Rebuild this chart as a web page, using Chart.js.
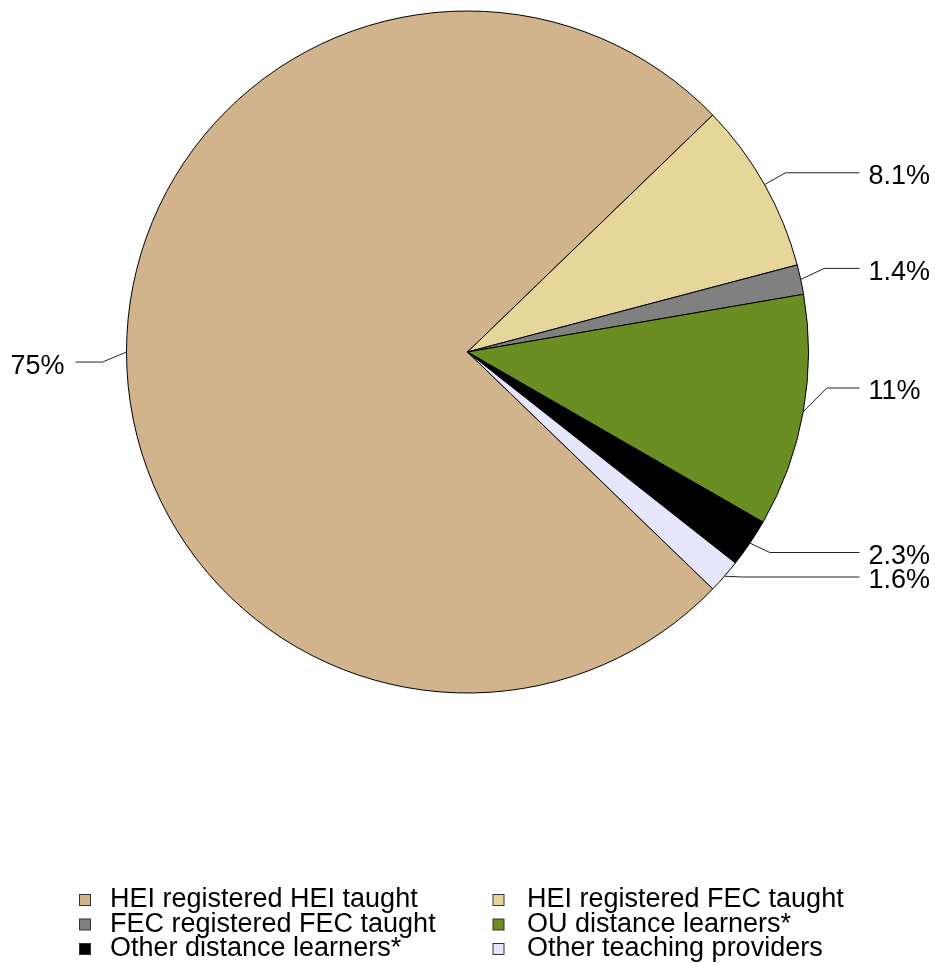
<!DOCTYPE html>
<html>
<head>
<meta charset="utf-8">
<script src="https://cdn.jsdelivr.net/npm/chart.js@4/dist/chart.umd.min.js"></script>
<style>
  html, body { margin: 0; padding: 0; background: #fff; }
  #wrap { width: 935px; height: 963px; position: relative; }
</style>
</head>
<body>
<div id="wrap"><canvas id="myChart"></canvas></div>
<script>
// data
const categories = [
    'HEI registered HEI taught',
    'HEI registered FEC taught',
    'FEC registered FEC taught',
    'OU distance learners*',
    'Other distance learners*',
    'Other teaching providers'
];
const shares = [75.4, 8.1, 1.4, 11.0, 2.3, 1.6];
const shareLabels = ['75%', '8.1%', '1.4%', '11%', '2.3%', '1.6%'];
const colours = ['#D2B48C', '#E6D69A', '#808080', '#6B8E23', '#000000', '#E6E6FA'];

const FONT = '27px "Liberation Sans", Arial, sans-serif';

// percentage labels with leader lines
const leaderLabels = {
    id: 'leaderLabels',
    afterDatasetsDraw(chart, args, opts) {
        const ctx = chart.ctx;
        const arcs = chart.getDatasetMeta(0).data;
        ctx.save();
        ctx.font = FONT;
        ctx.fillStyle = '#000';
        ctx.strokeStyle = '#222';
        ctx.lineWidth = 1;
        ctx.textBaseline = 'middle';
        arcs.forEach((arc, i) => {
            const { x, y, startAngle, endAngle, outerRadius } = arc.getProps(['x', 'y', 'startAngle', 'endAngle', 'outerRadius'], true);
            const mid = (startAngle + endAngle) / 2;
            const cos = Math.cos(mid), sin = Math.sin(mid);
            const right = cos >= 0;
            const ex = x + outerRadius * cos, ey = y + outerRadius * sin;
            const bx = x + (outerRadius + 24) * cos;
            const by = y + (outerRadius + 24) * sin + (opts.nudge[i] || 0);
            const endX = x + (right ? 1 : -1) * (outerRadius + 51);
            ctx.beginPath();
            ctx.moveTo(ex, ey);
            ctx.lineTo(bx, by);
            ctx.lineTo(endX, by);
            ctx.stroke();
            ctx.textAlign = right ? 'left' : 'right';
            ctx.fillText(shareLabels[i], endX + (right ? 9 : -11), by + 4);
        });
        ctx.restore();
    }
};

// two-column legend under the pie
const gridLegend = {
    id: 'gridLegend',
    afterDraw(chart) {
        const ctx = chart.ctx;
        const markX = [85, 498.5];
        const textX = [110, 527];
        const rowY = [900, 924.5, 949];
        ctx.save();
        ctx.font = FONT;
        ctx.textBaseline = 'middle';
        ctx.textAlign = 'left';
        categories.forEach((name, i) => {
            const col = i % 2, row = Math.floor(i / 2);
            const mx = markX[col], my = rowY[row];
            ctx.fillStyle = colours[i];
            ctx.fillRect(mx - 5.5, my - 5.5, 11, 11);
            ctx.strokeStyle = '#333';
            ctx.lineWidth = 1;
            ctx.strokeRect(mx - 5.5, my - 5.5, 11, 11);
            ctx.fillStyle = '#000';
            ctx.fillText(name, textX[col], my);
        });
        ctx.restore();
    }
};

const ctx = document.getElementById('myChart').getContext('2d');
new Chart(ctx, {
    type: 'pie',
    data: {
        labels: categories,
        datasets: [{
            data: shares,
            backgroundColor: colours,
            borderColor: '#000',
            borderWidth: 1,
            borderAlign: 'center',
            radius: 341
        }]
    },
    options: {
        responsive: true,
        maintainAspectRatio: false,
        animation: false,
        rotation: 134,
        layout: { padding: { top: 11, bottom: 270, left: 0, right: 0 } },
        plugins: {
            legend: { display: false },
            tooltip: { enabled: false },
            leaderLabels: { nudge: { 0: 10, 2: -6, 3: -28, 4: -4, 5: -15 } }
        }
    },
    plugins: [leaderLabels, gridLegend]
});
</script>
</body>
</html>
